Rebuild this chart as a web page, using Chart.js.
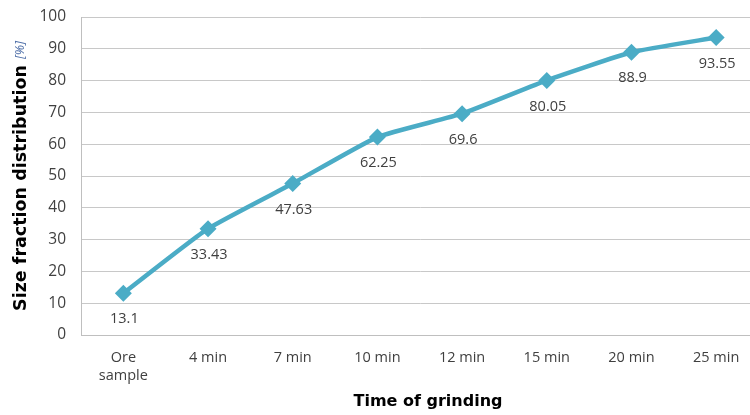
<!DOCTYPE html>
<html>
<head>
<meta charset="utf-8">
<script src="https://cdn.jsdelivr.net/npm/chart.js@4/dist/chart.umd.min.js"></script>
<style>
  html, body { margin: 0; padding: 0; background: #fff; overflow: hidden; }
  #wrap { width: 767px; height: 415px; position: relative; }
</style>
</head>
<body>
<div id="wrap"><canvas id="c" width="767" height="415"></canvas></div>
<script>
// Grinding time categories and cumulative size fraction (%)
const categories = [["Ore", "sample"], "4 min", "7 min", "10 min", "12 min", "15 min", "20 min", "25 min"];
const sizeFraction = [13.1, 33.43, 47.63, 62.25, 69.6, 80.05, 88.9, 93.55];
const valueLabels = ["13.1", "33.43", "47.63", "62.25", "69.6", "80.05", "88.9", "93.55"];

const FONT = "'Open Sans', 'Liberation Sans', sans-serif";
const TITLE_FONT = "'DejaVu Sans', 'Liberation Sans', sans-serif";

// Value labels drawn under each marker
const pointLabels = {
  id: 'pointLabels',
  afterDatasetsDraw(chart) {
    const ctx = chart.ctx;
    const meta = chart.getDatasetMeta(0);
    ctx.save();
    ctx.font = "14.5px " + FONT;
    ctx.fillStyle = '#404040';
    ctx.textAlign = 'center';
    ctx.textBaseline = 'middle';
    meta.data.forEach((pt, i) => {
      ctx.fillText(valueLabels[i], pt.x + 1, pt.y + 26);
    });
    ctx.restore();
  }
};

// Axis titles: bold caption with an italic unit on the y axis
const axisTitles = {
  id: 'axisTitles',
  afterDraw(chart) {
    const ctx = chart.ctx;
    const area = chart.chartArea;
    const main = 'Size fraction distribution ';
    const unit = '[%]';
    ctx.save();
    ctx.translate(21, (area.top + area.bottom) / 2);
    ctx.rotate(-Math.PI / 2);
    ctx.textBaseline = 'middle';
    ctx.font = "bold 17.5px " + TITLE_FONT;
    const w1 = ctx.measureText(main).width;
    ctx.font = "italic 13px " + FONT;
    const w2 = ctx.measureText(unit).width;
    const x = -(w1 + w2) / 2;
    ctx.textAlign = 'left';
    ctx.font = "bold 17.5px " + TITLE_FONT;
    ctx.fillStyle = '#000';
    ctx.fillText(main, x, 0);
    ctx.font = "italic 13px " + FONT;
    ctx.fillStyle = '#4F6FA8';
    ctx.fillText(unit, x + w1, -1);
    ctx.restore();

    ctx.save();
    ctx.font = "bold 16px " + TITLE_FONT;
    ctx.fillStyle = '#000';
    ctx.textAlign = 'center';
    ctx.textBaseline = 'middle';
    ctx.fillText('Time of grinding', 428, 402);
    ctx.restore();
  }
};

new Chart(document.getElementById('c'), {
  type: 'line',
  data: {
    labels: categories,
    datasets: [{
      data: sizeFraction,
      borderColor: '#4BACC6',
      backgroundColor: '#4BACC6',
      borderWidth: 4.5,
      pointStyle: 'rectRot',
      pointRadius: 8.5,
      pointHoverRadius: 8.5,
      pointBorderWidth: 0,
      tension: 0.15,
      fill: false
    }]
  },
  options: {
    responsive: false,
    animation: false,
    events: [],
    layout: { padding: { top: 17, left: 0, right: 0, bottom: 0 } },
    plugins: {
      legend: { display: false },
      tooltip: { enabled: false }
    },
    scales: {
      x: {
        offset: true,
        grid: { display: false, drawTicks: false },
        border: { display: true, color: '#BFBFBF', width: 1 },
        ticks: {
          color: '#404040',
          font: { family: FONT, size: 14.5, lineHeight: 1.3 },
          padding: 13,
          maxRotation: 0,
          autoSkip: false
        },
        afterFit(scale) {
          scale.height = 80;
          scale.paddingLeft = 0;
          scale.paddingRight = 0;
        }
      },
      y: {
        min: 0,
        max: 100,
        ticks: {
          stepSize: 10,
          color: '#404040',
          font: { family: FONT, size: 15.5 },
          padding: 15
        },
        grid: { color: '#C8C8C8', lineWidth: 1, drawTicks: false },
        border: { display: true, color: '#BFBFBF', width: 1 },
        afterFit(scale) {
          scale.width = 81;
          scale.paddingTop = 0;
          scale.paddingBottom = 0;
        }
      }
    }
  },
  plugins: [pointLabels, axisTitles]
});
</script>
</body>
</html>
